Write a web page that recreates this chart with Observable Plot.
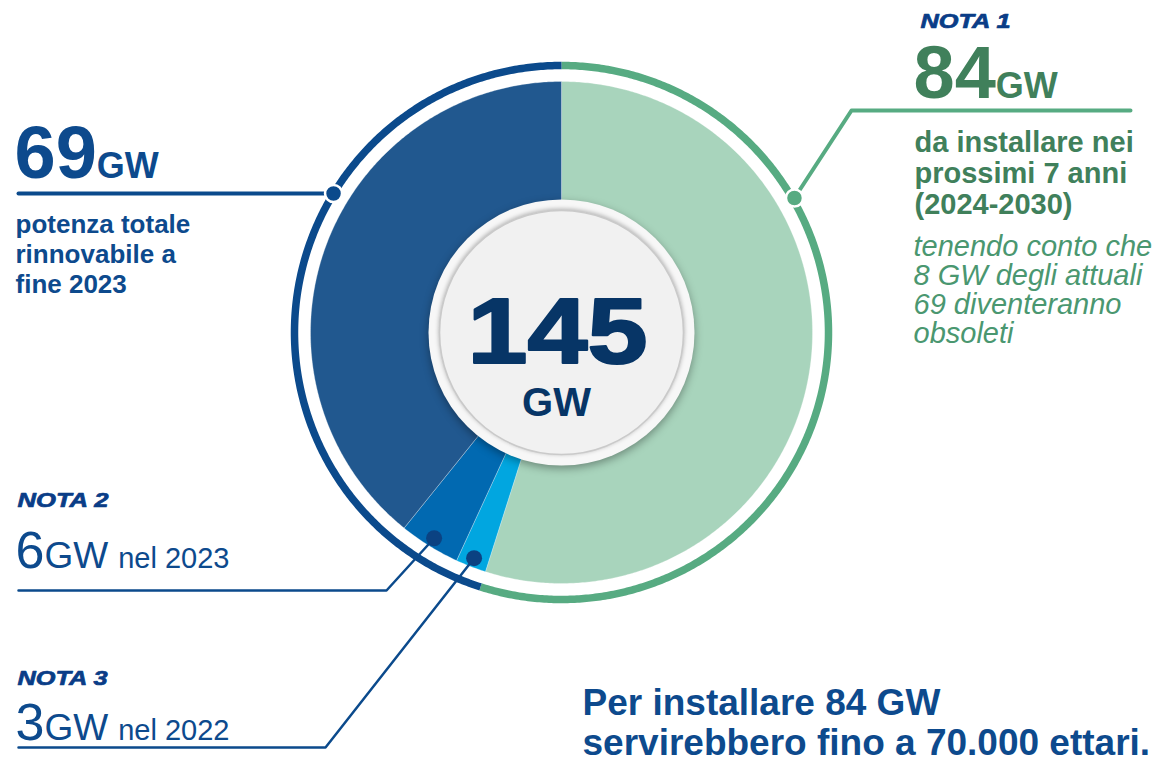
<!DOCTYPE html>
<html>
<head>
<meta charset="utf-8">
<script src="https://cdn.jsdelivr.net/npm/d3@7"></script>
<script src="https://cdn.jsdelivr.net/npm/@observablehq/plot@0.6"></script>
<style>
  html, body { margin: 0; padding: 0; background: #ffffff; }
  #chart { width: 1159px; height: 761px; overflow: hidden; }
</style>
</head>
<body>
<div id="chart"></div>
<script>
// ---------------- DATA ----------------
// pie slices, clockwise from 12 o'clock (GW)
const sliceNames  = ["Da installare 2024-2030", "Nuovi 2022", "Nuovi 2023", "Potenza esistente"];
const sliceValues = [84, 3, 6, 60];
// outer ring arcs (GW)
const ringNames  = ["Da installare", "Totale fine 2023"];
const ringValues = [84, 69];
const totalValue = 145;
const unitLabel = "GW";
// annotation texts
const noteLabels = ["NOTA 1", "NOTA 2", "NOTA 3"];
const leftLines  = ["potenza totale", "rinnovabile a", "fine 2023"];
const rightLines = ["da installare nei", "prossimi 7 anni", "(2024-2030)"];
const rightNote  = ["tenendo conto che", "8 GW degli attuali", "69 diventeranno", "obsoleti"];
const yearLabels = ["nel 2023", "nel 2022"];
const footerLines = ["Per installare 84 GW", "servirebbero fino a 70.000 ettari."];

// ---------------- STYLE / LAYOUT ----------------
const W = 1159, H = 761;
const CX = 561, CY = 332, R_PIE = 251, R_RING = 267, R_DISC = 133, R_DISC_IN = 122;
const FONT = "'Liberation Sans', Arial, Helvetica, sans-serif";
const SLICE_COLORS = ["#a8d4bc", "#01a6e0", "#0169b1", "#21588f"];
const RING_COLORS = ["#57ab82", "#0b4a8c"];
const NAVY = "#0d4a8d", NOTE = "#0a3d87", CENTER = "#073566";
const GREEN_TXT = "#40805b", GREEN_IT = "#4a9770", GREEN_LINE = "#57ab82", DOT_DARK = "#0b4282";

const ctx = document.createElement("canvas").getContext("2d");
function tw(s, font) { ctx.font = font; return ctx.measureText(s).width; }

function polar(r, a) { return {x: CX + r * Math.sin(a), y: CY - r * Math.cos(a)}; }
function arcPoints(a0, a1, r) {
  const n = Math.max(2, Math.ceil(Math.abs(a1 - a0) / (Math.PI / 360)));
  return d3.range(n + 1).map(j => polar(r, a0 + (a1 - a0) * j / n));
}

const slices = sliceNames.map((name, k) => ({name, value: sliceValues[k], k}));
const arcs = d3.pie().sort(null).value(d => d.value)(slices);
const ring = ringNames.map((name, k) => ({name, value: ringValues[k], k}));
const ringArcs = d3.pie().sort(null).value(d => d.value)(ring);

const slicePts = arcs.flatMap(a =>
  [{x: CX, y: CY}, ...arcPoints(a.startAngle, a.endAngle, R_PIE), {x: CX, y: CY}]
    .map(p => ({...p, k: a.data.k})));
const ringPts = ringArcs.flatMap(a =>
  arcPoints(a.startAngle, a.endAngle, R_RING).map(p => ({...p, k: a.data.k})));

// leader anchor points
const midAngle = a => (a.startAngle + a.endAngle) / 2;
const dotN3 = polar(242, midAngle(arcs[1]));
const dotN2 = polar(242, midAngle(arcs[2]));
const LINE_Y_LEFT = 193;
const dotL = polar(R_RING, -Math.acos((CY - LINE_Y_LEFT) / R_RING));
const dotR = polar(R_RING + 2, Math.PI / 3);

const leadersThick = [
  ...[dotL, {x: 18, y: dotL.y}].map(p => ({...p, id: "l", c: RING_COLORS[1]})),
  ...[dotR, {x: 851, y: 110}, {x: 1130, y: 110}].map(p => ({...p, id: "r", c: GREEN_LINE}))
];
const leadersThin = [
  ...[dotN2, {x: 386, y: 590}, {x: 18, y: 590}].map(p => ({...p, id: "n2"})),
  ...[dotN3, {x: 325, y: 747}, {x: 18, y: 747}].map(p => ({...p, id: "n3"}))
];

// text helper
function T(str, x, y, o) {
  return Plot.text([{str, x, y}], {
    x: "x", y: "y", text: "str",
    textAnchor: o.anchor || "start", lineAnchor: "bottom",
    fontFamily: FONT, fontSize: o.size, fontWeight: o.weight || "normal",
    fontStyle: o.style || "normal", fill: o.color,
    ...(o.stroke ? {stroke: o.color, strokeWidth: o.stroke} : {})
  });
}

const texts = [];
// left 69GW
const v69 = String(ringValues[1]);
texts.push(T(v69, 14, 177, {size: 74, weight: "bold", color: NAVY}));
texts.push(T(unitLabel, 14 + tw(v69, `bold 74px ${FONT}`), 177, {size: 36, weight: "bold", color: NAVY}));
leftLines.forEach((s, i) => texts.push(T(s, 15, 232 + 30 * i, {size: 26, weight: "bold", color: NAVY})));
// right 84GW
const v84 = String(ringValues[0]);
texts.push(T(noteLabels[0], 920, 27, {size: 20, weight: "bold", style: "italic", color: NOTE, stroke: 0.7}));
texts.push(T(v84, 913, 97, {size: 74, weight: "bold", color: GREEN_TXT}));
texts.push(T(unitLabel, 913 + tw(v84, `bold 74px ${FONT}`), 97, {size: 36, weight: "bold", color: GREEN_TXT}));
rightLines.forEach((s, i) => texts.push(T(s, 914, 151 + 31 * i, {size: 29, weight: "bold", color: GREEN_TXT})));
rightNote.forEach((s, i) => texts.push(T(s, 913, 255 + 29.3 * i, {size: 29, style: "italic", color: GREEN_IT})));
// bottom-left notes
[[noteLabels[1], String(sliceValues[2]), yearLabels[0], 506, 567],
 [noteLabels[2], String(sliceValues[1]), yearLabels[1], 684, 739]].forEach(([lab, v, yr, yN, yV]) => {
  texts.push(T(lab, 17, yN, {size: 20, weight: "bold", style: "italic", color: NOTE, stroke: 0.7}));
  const x1 = 15 + tw(v, `52px ${FONT}`);
  const x2 = x1 + tw(unitLabel, `37px ${FONT}`) + tw(" ", `29px ${FONT}`) + 2;
  texts.push(T(v, 15, yV, {size: 52, color: NAVY}));
  texts.push(T(unitLabel, x1, yV, {size: 37, color: NAVY}));
  texts.push(T(yr, x2, yV, {size: 29, color: NAVY}));
});
// footer
footerLines.forEach((s, i) => texts.push(T(s, 582, 714 + 40 * i, {size: 37, weight: "bold", color: NAVY})));
// center
texts.push(T(String(totalValue), 557, 362, {size: 93, weight: "bold", color: CENTER, anchor: "middle", stroke: 2.2}));
texts.push(T(unitLabel, 556, 415, {size: 40, weight: "bold", color: CENTER, anchor: "middle"}));

const svg = Plot.plot({
  width: W, height: H,
  margin: 0,
  x: {domain: [0, W], range: [0, W], axis: null},
  y: {domain: [0, H], range: [0, H], axis: null},
  color: {type: "identity"},
  style: {background: "#ffffff", overflow: "visible"},
  marks: [
    Plot.line(slicePts, {x: "x", y: "y", z: "k", fill: d => SLICE_COLORS[d.k],
      stroke: "#ffffff", strokeWidth: 0.7, strokeOpacity: 0.4, strokeLinejoin: "round"}),
    Plot.line(ringPts, {x: "x", y: "y", z: "k", stroke: d => RING_COLORS[d.k], strokeWidth: 7.5, strokeLinecap: "butt"}),
    Plot.dot([{x: CX, y: CY}], {x: "x", y: "y", r: R_DISC, fill: "#f7f7f7",
      imageFilter: "drop-shadow(0px 3px 4px rgba(0,0,0,0.35))"}),
    Plot.dot([{x: CX, y: CY}], {x: "x", y: "y", r: R_DISC_IN, fill: "#f1f1f1", stroke: "#cacaca", strokeWidth: 1.6,
      imageFilter: "drop-shadow(0px -1px 2px rgba(0,0,0,0.28))"}),
    Plot.line(leadersThick, {x: "x", y: "y", z: "id", stroke: "c", strokeWidth: 4}),
    Plot.line(leadersThin, {x: "x", y: "y", z: "id", stroke: RING_COLORS[1], strokeWidth: 2.5}),
    Plot.dot([{...dotL, c: RING_COLORS[1]}, {...dotR, c: GREEN_LINE}], {x: "x", y: "y", r: 8.5, fill: "c", stroke: "#ffffff", strokeWidth: 2.5}),
    Plot.dot([dotN2, dotN3], {x: "x", y: "y", r: 8, fill: DOT_DARK}),
    ...texts
  ]
});
document.getElementById("chart").append(svg);

// widen heavy display texts to mimic the reference's wide type
const stretch = new Map([[String(totalValue), 180], [noteLabels[0], 90], [noteLabels[1], 91], [noteLabels[2], 90]]);
svg.querySelectorAll("text").forEach(t => {
  const len = stretch.get(t.textContent);
  if (len) { t.setAttribute("textLength", len); t.setAttribute("lengthAdjust", "spacingAndGlyphs"); }
});
</script>
</body>
</html>
